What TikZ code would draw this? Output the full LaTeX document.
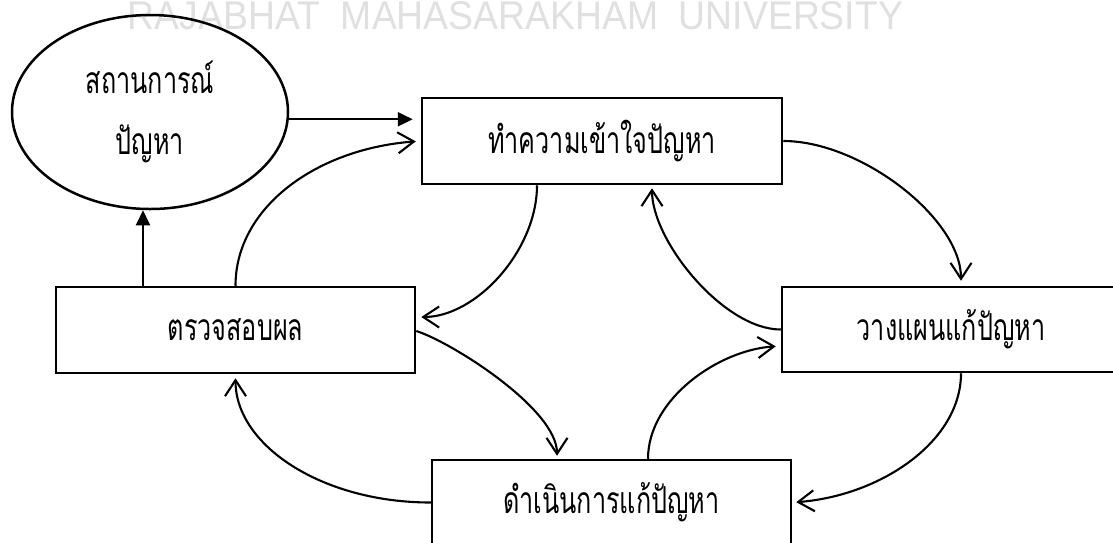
\documentclass[tikz,border=0pt]{standalone}
\usepackage{fontspec}
\usetikzlibrary{shapes.geometric,arrows.meta}
\newfontfamily\thaifont[Script=Thai]{Loma}
\newfontfamily\wmfont{Liberation Sans}
\newcommand\thtx[1]{\scalebox{1.05}[1.55]{#1}}
\begin{document}
\begin{tikzpicture}[x=1pt,y=-1pt,
  box/.style={draw,line width=2.5pt,rectangle,inner sep=0pt},
  lbl/.style={font=\thaifont\fontsize{24}{28}\selectfont},
  oarrow/.style={line width=2.1pt,-{Straight Barb[length=16pt,width=21pt,line width=2.1pt]}},
  farrow/.style={line width=2.1pt,-{Triangle[length=15pt,width=14pt]}}]
\clip (0,0) rectangle (1113,542);
\fill[white] (0,0) rectangle (1113,542);
\node[inner sep=0pt,text=black!12] (wm) at (515.5,16)
  {\resizebox{775pt}{28pt}{\wmfont RAJABHAT\ \ MAHASARAKHAM\ \ UNIVERSITY}};
\node[box,minimum width=360pt,minimum height=86pt,lbl] (tb) at (602,141) {\thtx{ทำความเข้าใจปัญหา}};
\node[box,minimum width=359pt,minimum height=86pt,lbl] (lb) at (235.5,330) {\thtx{ตรวจสอบผล}};
\node[box,minimum width=338pt,minimum height=85pt,lbl] (rb) at (951,329.5) {\thtx{วางแผนแก้ปัญหา}};
\node[box,minimum width=359pt,minimum height=85pt,lbl] (bb) at (611.5,502.5) {\thtx{ดำเนินการแก้ปัญหา}};
\node[ellipse,draw,line width=2.5pt,minimum width=276pt,minimum height=194pt,lbl,align=center,inner sep=0pt] (sit) at (150,112) {\thtx{สถานการณ์}\\[30pt]\thtx{ปัญหา}};
\draw[farrow,shorten >=8pt] (sit.-3) -- (sit.-3 -| tb.west);
\draw[farrow] ([xshift=-92.5pt]lb.north) -- ([xshift=-92.5pt]lb.north |- sit.south);
\draw[oarrow,shorten >=5pt] (lb.north) .. controls +(0,-78) and +(-105,8) .. (tb.west);
\draw[oarrow,shorten >=5pt] ([xshift=-65pt]tb.south) .. controls +(0,65) and +(60,0) .. ([yshift=13pt]lb.east);
\draw[oarrow,shorten >=5pt] (tb.east) .. controls +(78,0) and +(0,-67) .. ([xshift=10pt]rb.north);
\draw[oarrow,shorten >=3pt] (rb.west) .. controls +(-57,0) and +(0,56) .. ([xshift=50pt]tb.south);
\draw[oarrow,shorten >=3pt] ([yshift=-1pt]lb.east) .. controls +(35,11) and +(0,-50) .. ([xshift=-54.5pt]bb.north);
\draw[oarrow,shorten >=5pt] ([xshift=36.5pt]bb.north) .. controls +(0,-60) and +(-62,4) .. ([yshift=-16.5pt]rb.west);
\draw[oarrow,shorten >=4pt] ([xshift=10pt]rb.south) .. controls +(0,68) and +(89,-7) .. (bb.east);
\draw[oarrow,shorten >=4pt] (bb.west) .. controls +(-109,0) and +(0,71) .. (lb.south);
\end{tikzpicture}
\end{document}
